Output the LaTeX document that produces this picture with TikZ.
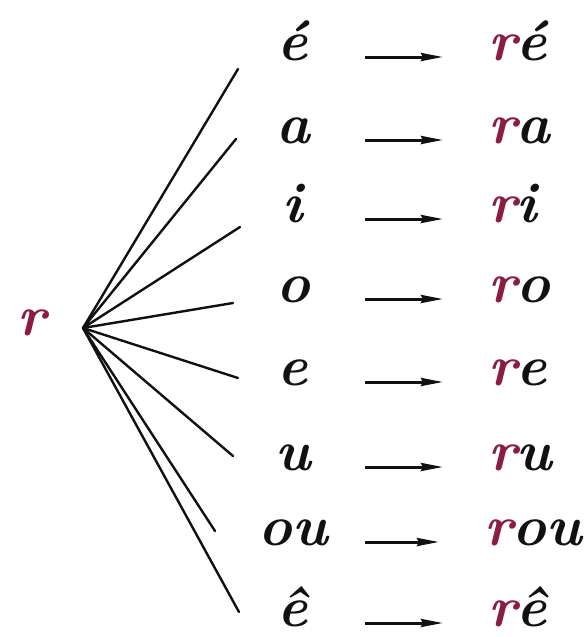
\documentclass[tikz,border=0pt]{standalone}
\usepackage{xcolor}
\usepackage{tikz}
\usetikzlibrary{arrows.meta,positioning,calc}
\definecolor{RCrimson}{HTML}{8C1D40}
\definecolor{RInk}{HTML}{111111}

\begin{document}
\begin{tikzpicture}[
  x=1pt,y=-1pt,
  vowel/.style={inner sep=0pt,anchor=base,minimum width=144pt,text=RInk,font=\fontsize{57}{60}\selectfont\bfseries\itshape},
  syl/.style={inner sep=0pt,anchor=base west,text=RInk,font=\fontsize{57}{60}\selectfont\bfseries\itshape},
  cons/.style={inner sep=0pt,anchor=base,text=RCrimson,font=\fontsize{57}{60}\selectfont\bfseries\itshape},
  branch/.style={line width=2.4pt,draw=RInk,line cap=round},
  arr/.style={-{Stealth[length=22pt,width=8pt,inset=2pt]},line width=3pt,draw=RInk,shorten >=45pt}
]
\useasboundingbox (0,0) rectangle (587,637);

% the consonant and the hub
\node[cons] (r) at (32,335) {r};
\coordinate (hub) at (83,328);

% vowels
\node[vowel] (v1) at (293,60) {é};
\node[vowel] (v2) at (293,143) {a};
\node[vowel] (v3) at (293,222) {i};
\node[vowel] (v4) at (293,302) {o};
\node[vowel] (v5) at (293,385) {e};
\node[vowel] (v6) at (293,470) {u};
\node[vowel] (v7) at (293,545) {ou};
\node[vowel] (v8) at (293,626) {ê};

% syllables
\node[syl] (s1) at (488,60) {\textcolor{RCrimson}{r}é};
\node[syl] (s2) at (488,143) {\textcolor{RCrimson}{r}a};
\node[syl] (s3) at (488,222) {\textcolor{RCrimson}{r}i};
\node[syl] (s4) at (488,302) {\textcolor{RCrimson}{r}o};
\node[syl] (s5) at (488,385) {\textcolor{RCrimson}{r}e};
\node[syl] (s6) at (488,470) {\textcolor{RCrimson}{r}u};
\node[syl] (s7) at (484,545) {\textcolor{RCrimson}{r}ou};
\node[syl] (s8) at (488,626) {\textcolor{RCrimson}{r}ê};

% ends of the branches
\coordinate (b1) at (238,69);
\coordinate (b2) at (236,139);
\coordinate (b3) at (240,227);
\coordinate (b4) at (233,303);
\coordinate (b5) at (238,378);
\coordinate (b6) at (233,456);
\coordinate (b7) at (215,531);
\coordinate (b8) at (239,612);

\foreach \i in {1,...,8}
  \draw[branch] (hub) -- (b\i);

\foreach \i in {1,...,8}
  \draw[arr] ([yshift=3pt]v\i.base east) -- ([yshift=3pt]v\i.base east -| s\i.base west);
\end{tikzpicture}
\end{document}
